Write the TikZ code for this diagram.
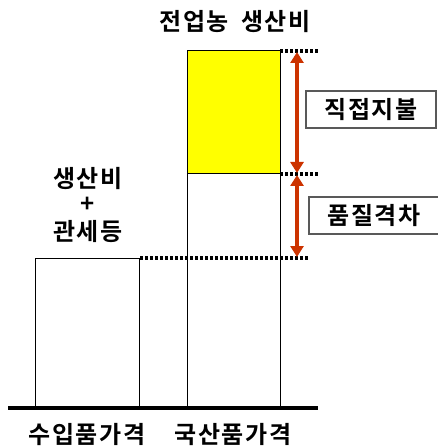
\documentclass[tikz,border=0pt]{standalone}
\usepackage{fontspec}
\setmainfont{Noto Sans CJK KR}[BoldFont={* Bold}, LetterSpace=6]
\usetikzlibrary{arrows.meta}
\definecolor{gaparrow}{RGB}{204,51,0}
\definecolor{paybox}{RGB}{255,255,0}
\tikzset{
  lbl/.style={font=\fontsize{24}{28}\selectfont\bfseries, inner sep=0pt},
  tagbox/.style={lbl, draw=gray!70!black, line width=1.2pt, minimum width=130pt, minimum height=37pt},
  levelline/.style={line width=3.5pt, dash pattern=on 3pt off 2pt},
  gap/.style={gaparrow, line width=3.5pt, {Triangle[length=11pt,width=13pt]}-{Triangle[length=11pt,width=13pt]}, shorten <=1pt, shorten >=1pt}
}
\begin{document}
\begin{tikzpicture}[x=1pt,y=-1pt]
        \useasboundingbox (0,0) rectangle (437,446);
        % bars
        \draw[fill=white, line width=1pt] (35,408) rectangle (139,258);
        \draw[fill=paybox, line width=1pt] (187,174) rectangle (280,51);
        \draw[line width=1pt] (187,408) rectangle (280,174);
        \draw[line width=4pt] (8,408) -- (318,408);
        % level lines
        \coordinate (top) at (280,51);
        \coordinate (topend) at (319,51);
        \coordinate (mid) at (280,174);
        \coordinate (midend) at (319,174);
        \coordinate (low) at (140,258);
        \coordinate (lowend) at (309,258);
        \draw[levelline] (top) -- (topend);
        \draw[levelline] (mid) -- (midend);
        \draw[levelline] (low) -- (lowend);
        % gaps
        \coordinate (a1) at (297,51);
        \coordinate (a2) at (297,174);
        \coordinate (a3) at (297,258);
        \draw[gap] (a1) -- (a2);
        \draw[gap] (a2) -- (a3);
        % labels
        \node[tagbox] (pay) at (371,109.5) {직접지불};
        \node[tagbox] (quality) at (374,215.5) {품질격차};
        \node[lbl] (title) at (235,22) {전업농\hspace{12pt}생산비};
        \node[lbl] (cost) at (88,179) {생산비};
        \node[lbl] (plus) at (88,205) {+};
        \node[lbl] (tariff) at (88,232) {관세등};
        \node[lbl] (imported) at (87,434) {수입품가격};
        \node[lbl] (domestic) at (233,434) {국산품가격};
\end{tikzpicture}
\end{document}
